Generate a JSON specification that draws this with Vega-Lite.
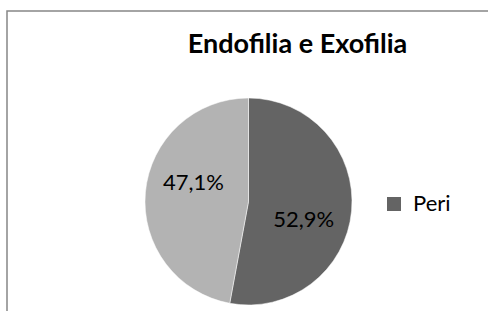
{
  "$schema": "https://vega.github.io/schema/vega-lite/v6.json",
  "autosize": {"type": "none"},
  "padding": {"left": 7, "top": 11, "right": 0, "bottom": 0},
  "width": 483,
  "height": 381,
  "view": {"stroke": "#878787", "strokeWidth": 1.5},
  "title": {
    "text": "Endofilia e Exofilia",
    "anchor": "middle",
    "frame": "group",
    "font": "Lato",
    "fontSize": 27,
    "fontWeight": "bold",
    "color": "#000000",
    "baseline": "alphabetic",
    "offset": 0,
    "dx": 49,
    "dy": 69
  },
  "data": {
    "values": [
      {"categoria": "Peri", "valor": 52.9, "rotulo": "52,9%"},
      {"categoria": "Intra", "valor": 47.1, "rotulo": "47,1%"}
    ]
  },
  "resolve": {"scale": {"theta": "independent"}},
  "layer": [
    {
      "mark": {"type": "arc", "outerRadius": 103.5, "stroke": "#ffffff", "strokeWidth": 0.5},
      "encoding": {
        "theta": {"field": "valor", "type": "quantitative", "stack": true},
        "order": {"field": "categoria", "sort": "descending"},
        "color": {
          "field": "categoria",
          "type": "nominal",
          "scale": {"domain": ["Peri", "Intra"], "range": ["#646464", "#b3b3b3"]},
          "legend": {
            "values": ["Peri"],
            "title": null,
            "orient": "none",
            "legendX": 376,
            "legendY": 182,
            "padding": 0,
            "symbolType": "square",
            "symbolSize": 196,
            "symbolStrokeWidth": 0,
            "labelFont": "Lato",
            "labelFontSize": 22,
            "labelColor": "#000000",
            "labelOffset": 8
          }
        }
      }
    },
    {
      "mark": {"type": "text", "radius": 58, "font": "Lato", "fontSize": 22, "color": "#000000"},
      "encoding": {
        "theta": {"field": "valor", "type": "quantitative", "stack": true, "scale": {"range": [0.227, 6.510]}},
        "order": {"field": "categoria", "sort": "descending"},
        "text": {"field": "rotulo"}
      }
    }
  ]
}
